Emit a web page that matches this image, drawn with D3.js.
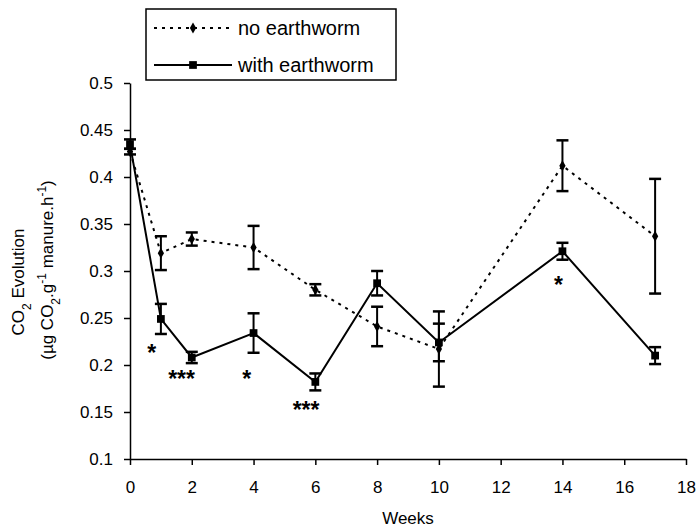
<!DOCTYPE html>
<html>
<head>
<meta charset="utf-8">
<script src="https://cdn.jsdelivr.net/npm/d3@7"></script>
<style>
  body { margin: 0; background: #fff; }
  svg { font-family: "Liberation Sans", Arial, sans-serif; }
</style>
</head>
<body>
<svg width="696" height="527"></svg>
<script>
const weeks = [0, 1, 2, 4, 6, 8, 10, 14, 17];
const noWorm = [0.427, 0.319, 0.334, 0.325, 0.28, 0.241, 0.217, 0.412, 0.337];
const noWormErr = [0.003, 0.018, 0.007, 0.023, 0.006, 0.021, 0.04, 0.027, 0.061];
const withWorm = [0.435, 0.249, 0.208, 0.234, 0.182, 0.287, 0.224, 0.321, 0.21];
const withWormErr = [0.005, 0.016, 0.006, 0.021, 0.009, 0.013, 0.02, 0.009, 0.009];

// significance marks (week position, value position, label)
const sigWeeks = [0.7, 1.67, 3.78, 5.7, 13.87];
const sigValues = [0.2185, 0.191, 0.191, 0.158, 0.2906];
const sigLabels = ["*", "***", "*", "***", "*"];

const xTicks = [0, 2, 4, 6, 8, 10, 12, 14, 16, 18];
const yTicks = [0.1, 0.15, 0.2, 0.25, 0.3, 0.35, 0.4, 0.45, 0.5];

const svg = d3.select("svg");
const x = d3.scaleLinear().domain([0, 18]).range([130, 686]);
const y = d3.scaleLinear().domain([0.1, 0.5]).range([459, 83]);

const series = [
  { name: "no earthworm", vals: noWorm, err: noWormErr, dash: "3,5", sym: d3.symbolDiamond, size: 34 },
  { name: "with earthworm", vals: withWorm, err: withWormErr, dash: null, sym: d3.symbolSquare, size: 60 }
];

// axes
const xAxis = svg.append("g")
  .attr("transform", `translate(0,${y(0.1)})`)
  .call(d3.axisBottom(x).tickValues(xTicks).tickSize(6).tickSizeOuter(0).tickPadding(16));
const yAxis = svg.append("g")
  .attr("transform", `translate(${x(0)},0)`)
  .call(d3.axisLeft(y).tickValues(yTicks).tickSize(6).tickSizeOuter(0).tickPadding(11)
    .tickFormat(d => String(+d.toFixed(2))));

[xAxis, yAxis].forEach(a => {
  a.selectAll("path, line").attr("stroke", "#000").attr("stroke-width", 1.5);
  a.selectAll("text").attr("fill", "#000").style("font-size", "17px");
});

// lines
series.forEach(s => {
  const pts = weeks.map((w, i) => [w, s.vals[i], s.err[i]]);
  const line = d3.line().x(d => x(d[0])).y(d => y(d[1]));
  svg.append("path")
    .datum(pts)
    .attr("fill", "none")
    .attr("stroke", "#000")
    .attr("stroke-width", 2)
    .attr("stroke-dasharray", s.dash)
    .attr("d", line);

  const eb = svg.append("g").selectAll("g").data(pts).enter().append("g");
  eb.append("line")
    .attr("x1", d => x(d[0])).attr("x2", d => x(d[0]))
    .attr("y1", d => y(d[1] - d[2])).attr("y2", d => y(d[1] + d[2]))
    .attr("stroke", "#000").attr("stroke-width", 2);
  [-1, 1].forEach(k => {
    eb.append("line")
      .attr("x1", d => x(d[0]) - 6).attr("x2", d => x(d[0]) + 6)
      .attr("y1", d => y(d[1] + k * d[2])).attr("y2", d => y(d[1] + k * d[2]))
      .attr("stroke", "#000").attr("stroke-width", 2.5);
  });

  svg.append("g").selectAll("path").data(pts).enter().append("path")
    .attr("transform", d => `translate(${x(d[0])},${y(d[1])})`)
    .attr("d", d3.symbol(s.sym, s.size))
    .attr("fill", "#000");
});

// significance asterisks
svg.append("g").selectAll("text").data(sigWeeks).enter().append("text")
  .attr("x", d => x(d))
  .attr("y", (d, i) => y(sigValues[i]))
  .attr("dy", "0.57em")
  .attr("text-anchor", "middle")
  .style("font-size", "23px")
  .style("font-weight", "bold")
  .text((d, i) => sigLabels[i]);

// axis titles
svg.append("text")
  .attr("x", (x(0) + x(18)) / 2)
  .attr("y", 524)
  .attr("text-anchor", "middle")
  .style("font-size", "17px")
  .text("Weeks");

const yt = svg.append("text")
  .attr("transform", "translate(24,282) rotate(-90)")
  .attr("text-anchor", "middle")
  .style("font-size", "17px");
yt.append("tspan").attr("x", 0).attr("y", 0).text("CO");
yt.append("tspan").attr("baseline-shift", "sub").style("font-size", "12px").text("2");
yt.append("tspan").text(" Evolution");
const yt2 = svg.append("text")
  .attr("transform", "translate(53,270) rotate(-90)")
  .attr("text-anchor", "middle")
  .style("font-size", "17px");
yt2.append("tspan").text("(\u00b5g CO");
yt2.append("tspan").attr("baseline-shift", "sub").style("font-size", "12px").text("2");
yt2.append("tspan").text(".g");
yt2.append("tspan").attr("baseline-shift", "super").style("font-size", "12px").text("-1");
yt2.append("tspan").text(" manure.h");
yt2.append("tspan").attr("baseline-shift", "super").style("font-size", "12px").text("-1");
yt2.append("tspan").text(")");

// legend
const lg = svg.append("g");
lg.append("rect")
  .attr("x", 146).attr("y", 9).attr("width", 250).attr("height", 71)
  .attr("fill", "#fff").attr("stroke", "#000").attr("stroke-width", 1.5);
series.forEach((s, i) => {
  const cy = 28 + i * 37;
  lg.append("line")
    .attr("x1", 154).attr("x2", 232).attr("y1", cy).attr("y2", cy)
    .attr("stroke", "#000").attr("stroke-width", 2)
    .attr("stroke-dasharray", s.dash);
  lg.append("path")
    .attr("transform", `translate(193,${cy})`)
    .attr("d", d3.symbol(s.sym, s.size))
    .attr("fill", "#000");
  lg.append("text")
    .attr("x", 238).attr("y", cy).attr("dy", "0.35em")
    .style("font-size", "20px")
    .text(s.name);
});
</script>
</body>
</html>
